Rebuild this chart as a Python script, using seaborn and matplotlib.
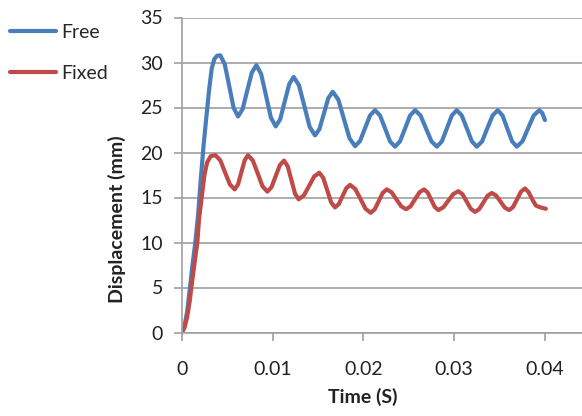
import matplotlib
matplotlib.use("Agg")
import matplotlib.pyplot as plt
import seaborn as sns
import pandas as pd

# ---- data ----
free_t = [0, 0.0003, 0.0006, 0.0009, 0.0012, 0.0015, 0.0018, 0.0021, 0.0024, 0.0027, 0.0030, 0.0033,
          0.0036, 0.0039, 0.00425,
          0.00474, 0.00523, 0.00571, 0.0062,
          0.00671, 0.00721, 0.00772, 0.00822,
          0.00875, 0.00929, 0.00982, 0.01035,
          0.01085, 0.01134, 0.01184, 0.01233,
          0.01292, 0.01351, 0.01409, 0.01468,
          0.01517, 0.01566, 0.01614, 0.01663,
          0.01725, 0.01786, 0.01848, 0.01909,
          0.01964, 0.02019, 0.02074, 0.02129,
          0.02184, 0.02239, 0.02294, 0.02349,
          0.02404, 0.0246, 0.02515, 0.0257,
          0.0263, 0.0269, 0.0275, 0.0281,
          0.02865, 0.0292, 0.02974, 0.03029,
          0.03084, 0.0314, 0.03195, 0.0325,
          0.03308, 0.03365, 0.03423, 0.0348,
          0.03533, 0.03585, 0.03638, 0.0369,
          0.03752, 0.03814, 0.03876, 0.03938,
          0.0397, 0.0400]
free_y = [0, 0.7, 2.3, 4.9, 7.6, 10.0, 13.0, 17.0, 20.7, 23.8, 26.8, 29.3,
          30.4, 30.75, 30.8,
          29.81, 27.4, 24.99, 24.0,
          24.83, 26.85, 28.87, 29.7,
          28.71, 26.3, 23.89, 22.9,
          23.70, 25.65, 27.60, 28.4,
          27.45, 25.15, 22.85, 21.9,
          22.61, 24.33, 26.04, 26.75,
          25.87, 23.73, 21.58, 20.7,
          21.28, 22.7, 24.12, 24.7,
          24.11, 22.68, 21.24, 20.65,
          21.24, 22.68, 24.11, 24.7,
          24.11, 22.68, 21.24, 20.65,
          21.24, 22.68, 24.11, 24.7,
          24.11, 22.68, 21.24, 20.65,
          21.24, 22.68, 24.11, 24.7,
          24.11, 22.68, 21.24, 20.65,
          21.24, 22.68, 24.11, 24.7,
          24.4, 23.6]

fixed_t = [0, 0.0003, 0.0006, 0.0009, 0.00106, 0.0014, 0.00172, 0.0019, 0.0022, 0.0025, 0.0028, 0.0032, 0.0037,
           0.00424, 0.00477, 0.00531, 0.00584,
           0.0062, 0.00657, 0.00694, 0.0073,
           0.00783, 0.00837, 0.0089, 0.00943,
           0.00989, 0.01035, 0.01081, 0.01127,
           0.01167, 0.01208, 0.01248, 0.01288,
           0.01345, 0.01402, 0.01458, 0.01515,
           0.01558, 0.01602, 0.01645, 0.01688,
           0.0173, 0.01771, 0.01813, 0.01854,
           0.01911, 0.01968, 0.02024, 0.02081,
           0.02125, 0.0217, 0.02214, 0.02258,
           0.02311, 0.02364, 0.02417, 0.0247,
           0.0252, 0.02569, 0.02619, 0.02668,
           0.02708, 0.02747, 0.02787, 0.02826,
           0.02881, 0.02936, 0.02991, 0.03046,
           0.03092, 0.03138, 0.03184, 0.0323,
           0.03276, 0.03322, 0.03368, 0.03414,
           0.03462, 0.0351, 0.03557, 0.03605,
           0.03649, 0.03693, 0.03736, 0.0378,
           0.0382, 0.0386, 0.0390, 0.0395, 0.0401]
fixed_y = [0, 0.5, 1.7, 3.6, 5.0, 7.6, 10.0, 12.5, 15.0, 17.5, 18.9, 19.6, 19.7,
           19.15, 17.8, 16.45, 15.9,
           16.45, 17.8, 19.15, 19.7,
           19.11, 17.68, 16.24, 15.65,
           16.15, 17.38, 18.6, 19.1,
           18.47, 16.95, 15.43, 14.8,
           15.23, 16.28, 17.32, 17.75,
           17.19, 15.83, 14.46, 13.9,
           14.27, 15.15, 16.04, 16.4,
           15.95, 14.85, 13.75, 13.3,
           13.68, 14.6, 15.52, 15.9,
           15.58, 14.8, 14.02, 13.7,
           14.02, 14.8, 15.58, 15.9,
           15.56, 14.75, 13.94, 13.6,
           13.91, 14.65, 15.39, 15.7,
           15.36, 14.55, 13.74, 13.4,
           13.71, 14.45, 15.19, 15.5,
           15.22, 14.55, 13.88, 13.6,
           13.95, 14.8, 15.65, 16.0,
           15.6, 14.8, 14.1, 13.9, 13.75]

series_names = ["Free", "Fixed"]
x_ticks = [0, 0.01, 0.02, 0.03, 0.04]
x_tick_labels = ["0", "0.01", "0.02", "0.03", "0.04"]
y_ticks = [0, 5, 10, 15, 20, 25, 30, 35]

df = pd.concat([
    pd.DataFrame({"t": free_t, "y": free_y, "s": series_names[0]}),
    pd.DataFrame({"t": fixed_t, "y": fixed_y, "s": series_names[1]}),
], ignore_index=True)

sns.set_theme(style="white")
plt.rcParams["font.family"] = ["Lato", "DejaVu Sans"]

fig = plt.figure(figsize=(5.82, 4.16), dpi=100)
ax = fig.add_axes([181.7 / 582, 83.5 / 416, 1 - 181.7 / 582, 315 / 416])

palette = {"Free": "#4A7EBB", "Fixed": "#BE4B48"}
sns.lineplot(data=df, x="t", y="y", hue="s", palette=palette, sort=False,
             estimator=None, linewidth=3, ax=ax, legend=True)
for line in ax.get_lines():
    line.set_solid_joinstyle("round")
    line.set_solid_capstyle("round")

ax.set_xlim(0, 0.04408)
ax.set_ylim(0, 35)
ax.set_xticks(x_ticks)
ax.set_xticklabels(x_tick_labels)
ax.set_yticks(y_ticks)
ax.grid(axis="y", color="#A0A0A0", linewidth=1.2)
ax.set_axisbelow(True)
for side in ["top", "right"]:
    ax.spines[side].set_visible(False)
for side in ["left", "bottom"]:
    ax.spines[side].set_color("#A0A0A0")
    ax.spines[side].set_linewidth(1.2)
ax.tick_params(axis="both", which="major", direction="out", length=5.5, width=1.2,
               color="#A0A0A0", labelsize=14, labelcolor="#222222")
ax.tick_params(axis="x", pad=15)
ax.tick_params(axis="y", pad=8)
ax.tick_params(axis="both", bottom=True, left=True)

ax.set_xlabel("Time (S)", fontsize=14, fontweight="bold", color="#222222")
ax.set_ylabel("Displacement (mm)", fontsize=14, fontweight="bold", color="#222222")
ax.xaxis.label.set(ha="center", va="center")
ax.yaxis.label.set(ha="center", va="center")
ax.xaxis.set_label_coords((363 - 181.7) / 400.3, (332.5 - 397) / 315)
ax.yaxis.set_label_coords((117 - 181.7) / 400.3, (332.5 - 219) / 315)

handles, labels = ax.get_legend_handles_labels()
ax.legend_.remove()
fig.legend(handles, labels, loc="upper left", bbox_to_anchor=(10 / 582, (416 - 24) / 416),
           frameon=False, fontsize=14, handlelength=2.35, handletextpad=0.3,
           labelspacing=1.25, borderpad=0, borderaxespad=0)
for line in fig.legends[0].get_lines():
    line.set_linewidth(3)

fig.savefig("out.png", dpi=100)
